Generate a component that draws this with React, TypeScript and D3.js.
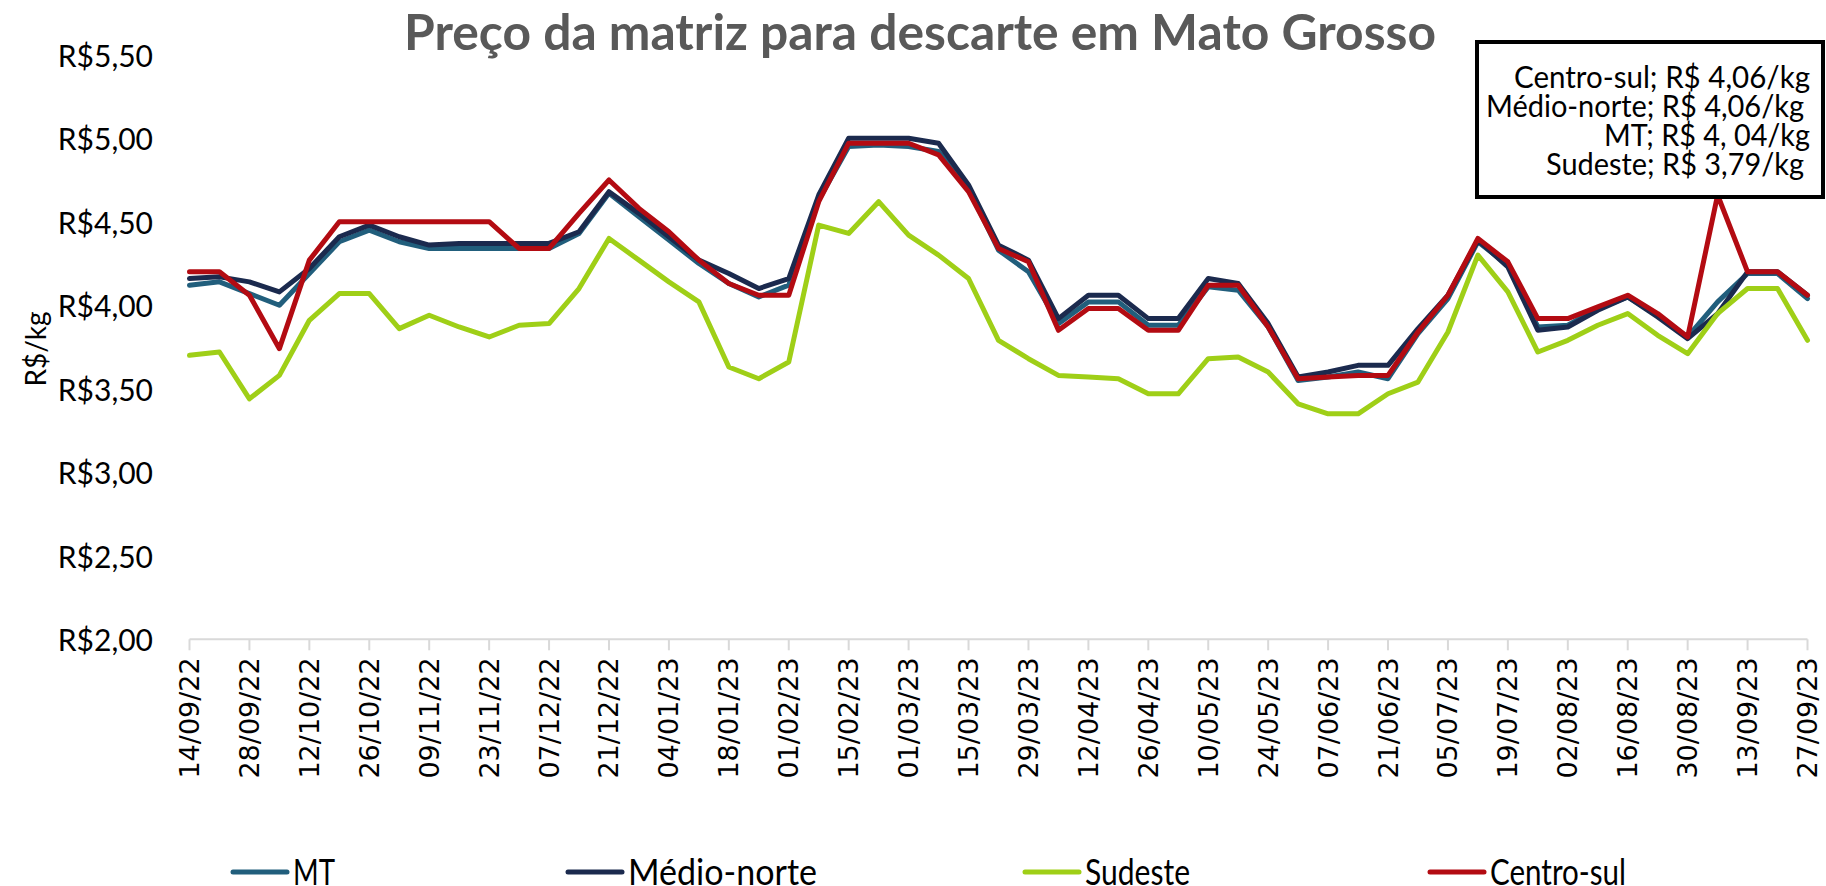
import React from "react";
import * as d3 from "d3";

const dates = [
  "14/09/22","21/09/22","28/09/22","05/10/22","12/10/22","19/10/22","26/10/22","02/11/22","09/11/22","16/11/22",
  "23/11/22","30/11/22","07/12/22","14/12/22","21/12/22","28/12/22","04/01/23","11/01/23","18/01/23","25/01/23",
  "01/02/23","08/02/23","15/02/23","22/02/23","01/03/23","08/03/23","15/03/23","22/03/23","29/03/23","05/04/23",
  "12/04/23","19/04/23","26/04/23","03/05/23","10/05/23","17/05/23","24/05/23","31/05/23","07/06/23","14/06/23",
  "21/06/23","28/06/23","05/07/23","12/07/23","19/07/23","26/07/23","02/08/23","09/08/23","16/08/23","23/08/23",
  "30/08/23","06/09/23","13/09/23","20/09/23","27/09/23"
];

const mt = [
  4.12, 4.14, 4.07, 4.00, 4.19, 4.38, 4.45, 4.38, 4.34, 4.34,
  4.34, 4.34, 4.34, 4.43, 4.67, 4.53, 4.39, 4.25, 4.13, 4.05,
  4.12, 4.63, 4.95, 4.96, 4.95, 4.92, 4.70, 4.33, 4.20, 3.89,
  4.02, 4.02, 3.88, 3.88, 4.11, 4.09, 3.87, 3.55, 3.57, 3.60,
  3.56, 3.83, 4.04, 4.38, 4.24, 3.87, 3.88, 3.98, 4.05, 3.94,
  3.81, 4.02, 4.19, 4.19, 4.04
];

const medioNorte = [
  4.16, 4.17, 4.14, 4.08, 4.22, 4.41, 4.48, 4.41, 4.36, 4.37,
  4.37, 4.37, 4.37, 4.44, 4.68, 4.55, 4.41, 4.27, 4.19, 4.10,
  4.16, 4.66, 5.00, 5.00, 5.00, 4.97, 4.72, 4.36, 4.27, 3.92,
  4.06, 4.06, 3.92, 3.92, 4.16, 4.13, 3.89, 3.57, 3.60, 3.64,
  3.64, 3.86, 4.06, 4.39, 4.23, 3.85, 3.87, 3.97, 4.05, 3.93,
  3.80, 3.95, 4.20, 4.20, 4.06
];

const sudeste = [
  3.70, 3.72, 3.44, 3.58, 3.91, 4.07, 4.07, 3.86, 3.94, 3.87,
  3.81, 3.88, 3.89, 4.10, 4.40, 4.27, 4.14, 4.02, 3.63, 3.56,
  3.66, 4.48, 4.43, 4.62, 4.42, 4.30, 4.16, 3.79, 3.68, 3.58,
  3.57, 3.56, 3.47, 3.47, 3.68, 3.69, 3.60, 3.41, 3.35, 3.35,
  3.47, 3.54, 3.84, 4.30, 4.08, 3.72, 3.79, 3.88, 3.95, 3.82,
  3.71, 3.95, 4.10, 4.10, 3.79
];

const centroSul = [
  4.20, 4.20, 4.06, 3.74, 4.27, 4.50, 4.50, 4.50, 4.50, 4.50,
  4.50, 4.34, 4.34, 4.55, 4.75, 4.58, 4.44, 4.27, 4.13, 4.06,
  4.06, 4.62, 4.97, 4.97, 4.97, 4.90, 4.68, 4.34, 4.26, 3.85,
  3.98, 3.98, 3.85, 3.85, 4.12, 4.12, 3.87, 3.56, 3.57, 3.58,
  3.58, 3.84, 4.06, 4.40, 4.26, 3.92, 3.92, 3.99, 4.06, 3.95,
  3.81, 4.66, 4.20, 4.20, 4.06
];

const seriesNames = ["MT", "Médio-norte", "Sudeste", "Centro-sul"];
const seriesColors = ["#215e7c", "#1b2a4e", "#9fcf17", "#b30b12"];
const yTicks = [2.0, 2.5, 3.0, 3.5, 4.0, 4.5, 5.0, 5.5];
const titleText = "Preço da matriz para descarte em Mato Grosso";
const yTitle = "R$/kg";
const annotationLines = [
  "Centro-sul; R$ 4,06/kg",
  "Médio-norte; R$ 4,06/kg",
  "MT; R$ 4, 04/kg",
  "Sudeste; R$ 3,79/kg",
];

const W = 1826;
const H = 886;
const CAL = "Lato, 'Open Sans', sans-serif";

export default function App() {
  const allSeries = [mt, medioNorte, sudeste, centroSul];
  const x = d3.scalePoint<string>().domain(dates).range([189.5, 1807.5]);
  const y = d3.scaleLinear().domain([2, 5.5]).range([639.3, 54.7]);
  const line = d3
    .line<number>()
    .x((_, i) => x(dates[i]) as number)
    .y((d) => y(d));

  const fmt = (v: number) => "R$" + v.toFixed(2).replace(".", ",");
  const tickDates = dates.filter((_, i) => i % 2 === 0);

  const legendSample = [233, 568, 1025, 1430];
  const legendWidths = [42, 189, 105, 136];
  const annRight = [1810, 1804, 1810, 1804];
  const annWidths = [296, 318, 206, 258];

  return (
    <svg
      width={W}
      height={H}
      style={{ position: "fixed", left: 0, top: 0, background: "#fff" }}
      xmlns="http://www.w3.org/2000/svg"
    >
      <rect x={0} y={0} width={W} height={H} fill="#fff" />
      <text
        x={920}
        y={50}
        textAnchor="middle"
        fontFamily={CAL}
        fontWeight={700}
        fontSize={50}
        fill="#595959"
        textLength={1032}
        lengthAdjust="spacingAndGlyphs"
      >
        {titleText}
      </text>

      {yTicks.map((t) => (
        <text
          key={t}
          x={153}
          y={y(t)}
          textAnchor="end"
          dominantBaseline="central"
          fontFamily={CAL}
          fontSize={30}
          fill="#000"
        >
          {fmt(t)}
        </text>
      ))}

      <text
        transform={`translate(35,349) rotate(-90)`}
        textAnchor="middle"
        dominantBaseline="central"
        fontFamily={CAL}
        fontSize={28}
        fill="#000"
      >
        {yTitle}
      </text>

      <line x1={189.5} x2={1807.5} y1={y(2)} y2={y(2)} stroke="#d9d9d9" strokeWidth={2} />
      {tickDates.map((d) => (
        <line
          key={"t" + d}
          x1={x(d) as number}
          x2={x(d) as number}
          y1={y(2)}
          y2={y(2) + 11}
          stroke="#d9d9d9"
          strokeWidth={2}
        />
      ))}
      {tickDates.map((d) => (
        <text
          key={"l" + d}
          transform={`translate(${x(d)},${y(2) + 18}) rotate(-90)`}
          textAnchor="end"
          dominantBaseline="central"
          fontFamily="'DejaVu Sans', Verdana, sans-serif"
          fontSize={27}
          fill="#000"
        >
          {d}
        </text>
      ))}

      {allSeries.map((s, k) => (
        <path
          key={seriesNames[k]}
          d={line(s) || ""}
          fill="none"
          stroke={seriesColors[k]}
          strokeWidth={5}
          strokeLinejoin="round"
          strokeLinecap="round"
        />
      ))}

      {seriesNames.map((n, k) => (
        <g key={"lg" + n}>
          <line
            x1={legendSample[k]}
            x2={legendSample[k] + 54}
            y1={872}
            y2={872}
            stroke={seriesColors[k]}
            strokeWidth={5}
            strokeLinecap="round"
          />
          <text
            x={legendSample[k] + 60}
            y={885}
            fontFamily={CAL}
            fontSize={36}
            fill="#000"
            textLength={legendWidths[k]}
            lengthAdjust="spacingAndGlyphs"
          >
            {n}
          </text>
        </g>
      ))}

      <rect x={1477} y={42} width={346} height={155} fill="#fff" stroke="#000" strokeWidth={4} />
      {annotationLines.map((l, i) => (
        <text
          key={l}
          x={annRight[i]}
          y={88 + i * 29}
          textAnchor="end"
          fontFamily={CAL}
          fontSize={30}
          fill="#000"
          textLength={annWidths[i]}
          lengthAdjust="spacingAndGlyphs"
        >
          {l}
        </text>
      ))}
    </svg>
  );
}
